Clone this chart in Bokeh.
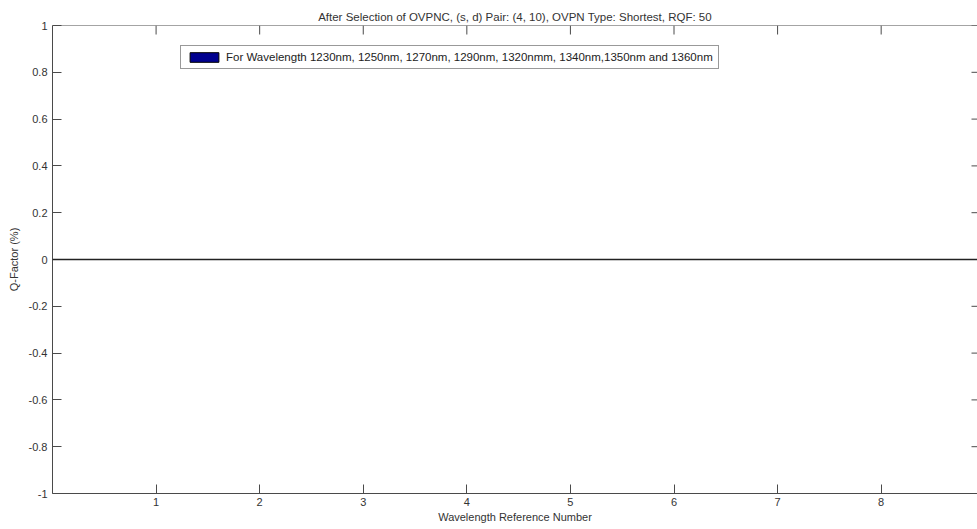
import math
from bokeh.plotting import figure
from bokeh.models import LinearAxis, FixedTicker, Range1d, Span, Legend, LegendItem
from bokeh.embed import file_html
from bokeh.resources import INLINE

# data
wavelength_ref = [1, 2, 3, 4, 5, 6, 7, 8]
q_factor = [0, 0, 0, 0, 0, 0, 0, 0]
x_ticks = [1, 2, 3, 4, 5, 6, 7, 8]
y_ticks = [-1, -0.8, -0.6, -0.4, -0.2, 0, 0.2, 0.4, 0.6, 0.8, 1]
x_min, x_max = 0, 8.93
y_min, y_max = -1, 1
title_text = "After Selection of OVPNC, (s, d) Pair: (4, 10), OVPN Type: Shortest, RQF: 50"
legend_text = "For Wavelength 1230nm, 1250nm, 1270nm, 1290nm, 1320nmm, 1340nm,1350nm and 1360nm"

FONT = "Liberation Sans"
AX = "#4a4a4a"
TXT = "#333333"

p = figure(width=977, height=529, output_backend="svg", toolbar_location=None,
           x_range=Range1d(x_min, x_max), y_range=Range1d(y_min, y_max),
           x_axis_location=None, y_axis_location=None,
           min_border_left=52, min_border_right=0, min_border_top=25, min_border_bottom=36,
           title=title_text)
p.outline_line_color = None
p.xgrid.visible = False
p.ygrid.visible = False
p.background_fill_color = "white"
p.border_fill_color = "white"

p.title.text_font = FONT
p.title.text_font_size = "11.5px"
p.title.text_font_style = "normal"
p.title.text_color = TXT
p.title.align = "center"
p.title.standoff = 6

def style_axis(ax):
    ax.axis_line_color = AX
    ax.major_tick_line_color = AX
    ax.minor_tick_line_color = None
    ax.major_tick_in = 9
    ax.major_tick_out = 0
    ax.major_label_text_font = FONT
    ax.major_label_text_font_size = "11px"
    ax.major_label_text_color = TXT
    ax.axis_label_text_font = FONT
    ax.axis_label_text_font_size = "11px"
    ax.axis_label_text_font_style = "normal"
    ax.axis_label_text_color = TXT

bottom = LinearAxis(ticker=FixedTicker(ticks=x_ticks), axis_label="Wavelength Reference Number")
style_axis(bottom)
bottom.major_label_standoff = 4
bottom.axis_label_standoff = 2
p.add_layout(bottom, "below")

left = LinearAxis(ticker=FixedTicker(ticks=y_ticks), axis_label="Q-Factor (%)")
style_axis(left)
left.major_label_standoff = 5
left.axis_label_standoff = 6
left.major_label_overrides = {v: f"{v:g}" for v in y_ticks}
p.add_layout(left, "left")

# top box line and inward ticks on top / right sides (MATLAB box style)
p.add_layout(Span(location=y_max, dimension="width", line_color=AX, line_width=1))
p.ray(x=x_ticks, y=[y_max] * len(x_ticks), length=9, angle=-math.pi / 2,
      length_units="screen", line_color=AX, line_width=1)
p.ray(x=[x_max] * len(y_ticks), y=y_ticks, length=6, angle=math.pi,
      length_units="screen", line_color=AX, line_width=1)

bars = p.vbar(x=wavelength_ref, top=q_factor, bottom=0, width=0.8,
              fill_color="#00008F", line_color="black")

p.add_layout(Span(location=0, dimension="width", line_color="#222222", line_width=1.5))

legend = Legend(items=[LegendItem(label=legend_text, renderers=[bars])],
                location=(128, 424))
legend.label_text_font = FONT
legend.label_text_font_size = "11.5px"
legend.label_text_color = "#222222"
legend.border_line_color = "#333333"
legend.border_line_width = 1
legend.padding = 5
legend.margin = 0
legend.spacing = 0
legend.glyph_width = 36
legend.glyph_height = 12
legend.label_height = 12
legend.label_standoff = 4
legend.background_fill_alpha = 1
p.add_layout(legend, "center")

open("out.html", "w").write(file_html(p, INLINE))
